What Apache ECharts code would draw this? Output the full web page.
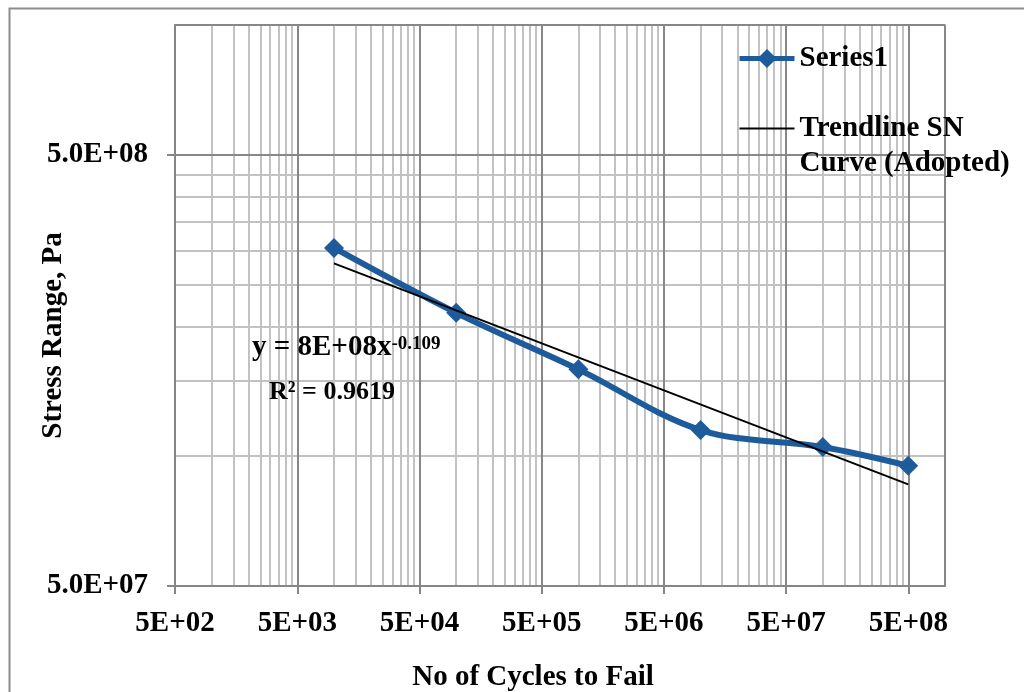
<!DOCTYPE html>
<html>
<head>
<meta charset="utf-8">
<title>S-N Curve</title>
<script src="https://cdn.jsdelivr.net/npm/echarts@6/dist/echarts.min.js"></script>
<style>
  html, body { margin: 0; padding: 0; background: #ffffff; }
  #chart { width: 1024px; height: 692px; }
</style>
</head>
<body>
<div id="chart"></div>
<script>
// Fatigue test results: cycles to failure vs. stress range
const cycles = [1e4, 1e5, 1e6, 1e7, 1e8, 5e8];
const stressRange = [3.04e8, 2.15e8, 1.59e8, 1.15e8, 1.05e8, 9.5e7];

// Adopted power-law trendline (straight on log-log axes): end points
const trendCycles = [1e4, 5e8];
const trendStress = [2.80e8, 8.6e7];

// Axis ranges and gridlines
const xMin = 500, xMax = 1e9;
const yMin = 5e7, yMax = 1e9;
const xMinorLines = [
  1000, 1500, 2000, 2500, 3000, 3500, 4000, 4500,
  1e4, 1.5e4, 2e4, 2.5e4, 3e4, 3.5e4, 4e4, 4.5e4,
  1e5, 1.5e5, 2e5, 2.5e5, 3e5, 3.5e5, 4e5, 4.5e5,
  1e6, 1.5e6, 2e6, 2.5e6, 3e6, 3.5e6, 4e6, 4.5e6,
  1e7, 1.5e7, 2e7, 2.5e7, 3e7, 3.5e7, 4e7, 4.5e7,
  1e8, 1.5e8, 2e8, 2.5e8, 3e8, 3.5e8, 4e8, 4.5e8
];
const yMinorLines = [1e8, 1.5e8, 2e8, 2.5e8, 3e8, 3.5e8, 4e8, 4.5e8];

const seriesName = 'Series1';
const trendName = 'Trendline SN\nCurve (Adopted)';
const equationText = 'y = 8E+08x';
const equationExponent = '-0.109';
const rSquaredText = 'R² = 0.9619';

const FONT = '"Liberation Serif", "Times New Roman", serif';
const BLUE = '#1E5B9B';

function sci(v, digits) {
  const parts = v.toExponential(digits).split('e');
  const e = parseInt(parts[1], 10);
  return parts[0] + 'E' + (e < 0 ? '-' : '+') + String(Math.abs(e)).padStart(2, '0');
}

const textBase = { fontFamily: FONT, fontWeight: 'bold', fontSize: 29, color: '#000' };

const chart = echarts.init(document.getElementById('chart'), null, { renderer: 'canvas' });

chart.setOption({
  backgroundColor: '#ffffff',
  animation: false,
  grid: {
    left: 175, top: 25, width: 770, height: 561,
    containLabel: false,
    outerBoundsMode: 'none',
    show: true, borderColor: '#c2c2c2', borderWidth: 2,
    backgroundColor: 'transparent'
  },
  legend: {
    orient: 'vertical',
    left: 737, top: 41,
    padding: 0,
    itemGap: 0,
    itemWidth: 55,
    itemHeight: 24,
    textStyle: Object.assign({}, textBase, { lineHeight: 35 }),
    // the trendline caption starts level with its key line
    formatter: name => (name === trendName ? '\n' + name : name),
    data: [
      { name: seriesName, lineStyle: { width: 5 } },
      { name: trendName, lineStyle: { width: 2 }, itemStyle: { opacity: 0 } }
    ]
  },
  xAxis: {
    type: 'log', logBase: 10,
    min: xMin, max: xMax, interval: 1,
    z: 1,
    name: 'No of Cycles to Fail',
    nameLocation: 'middle', nameGap: 77,
    nameMoveOverlap: false,
    nameTextStyle: Object.assign({}, textBase, { padding: [0, 54, 0, 0] }),
    axisLine: { show: true, lineStyle: { color: '#868686', width: 2 } },
    axisTick: { show: true, length: 8, lineStyle: { color: '#868686', width: 2 } },
    axisLabel: Object.assign({}, textBase, {
      margin: 23, showMaxLabel: false,
      formatter: v => sci(v, 0)
    }),
    splitLine: { show: true, lineStyle: { color: '#878787', width: 2 } },
    minorTick: { show: false },
    minorSplitLine: { show: false }
  },
  yAxis: {
    type: 'log', logBase: 10,
    min: yMin, max: yMax, interval: 1,
    z: 1,
    name: 'Stress Range, Pa',
    nameLocation: 'middle', nameGap: 107,
    nameMoveOverlap: false,
    nameTextStyle: Object.assign({}, textBase, { padding: [0, 60, 0, 0] }),
    axisLine: { show: true, lineStyle: { color: '#868686', width: 2 } },
    axisTick: { show: true, length: 8, lineStyle: { color: '#868686', width: 2 } },
    axisLabel: Object.assign({}, textBase, {
      margin: 27, showMaxLabel: false,
      formatter: v => sci(v, 1)
    }),
    splitLine: { show: true, lineStyle: { color: '#878787', width: 2 } },
    minorTick: { show: false },
    minorSplitLine: { show: false }
  },
  series: [
    {
      // light minor gridlines of the log grid
      name: 'minor-grid',
      type: 'line',
      data: [],
      silent: true,
      z: 0,
      markLine: {
        z: 0.5,
        silent: true,
        symbol: ['none', 'none'],
        animation: false,
        label: { show: false },
        emphasis: { disabled: true },
        lineStyle: { color: '#c2c2c2', width: 2, type: 'solid' },
        data: xMinorLines.map(v => ({ xAxis: v }))
          .concat(yMinorLines.map(v => ({ yAxis: v })))
      }
    },
    {
      name: seriesName,
      type: 'line',
      data: cycles.map((c, i) => [c, stressRange[i]]),
      smooth: 0.35,
      symbol: 'diamond',
      symbolSize: 20,
      z: 3,
      itemStyle: { color: BLUE },
      lineStyle: { color: BLUE, width: 6 }
    },
    {
      name: trendName,
      type: 'line',
      data: trendCycles.map((c, i) => [c, trendStress[i]]),
      symbol: 'none',
      z: 4,
      itemStyle: { color: '#000' },
      lineStyle: { color: '#000', width: 2 }
    }
  ],
  graphic: [
    {
      type: 'rect',
      silent: true,
      shape: { x: 9.5, y: 8.5, width: 1100, height: 800 },
      style: { fill: 'none', stroke: '#8c8c8c', lineWidth: 2 }
    },
    {
      type: 'text',
      x: 252, y: 331,
      z: 10,
      style: {
        text: '{m|' + equationText + '}{s|' + equationExponent + '}',
        rich: {
          m: Object.assign({}, textBase, { lineHeight: 34 }),
          s: Object.assign({}, textBase, { fontSize: 19, lineHeight: 19, verticalAlign: 'top', padding: [4, 0, 0, 0] })
        }
      }
    },
    {
      type: 'text',
      x: 269, y: 375,
      z: 10,
      style: Object.assign({ text: rSquaredText, lineHeight: 34 }, textBase, { fontSize: 26, fill: '#000' })
    }
  ]
});
</script>
</body>
</html>
